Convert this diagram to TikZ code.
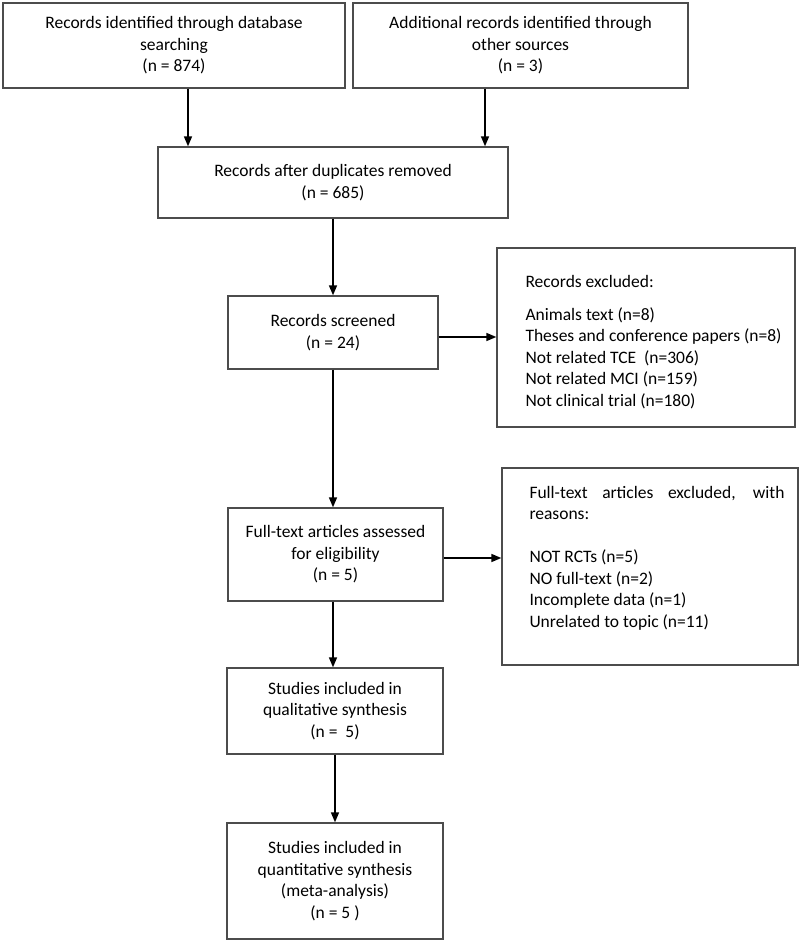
\documentclass[tikz,border=0pt]{standalone}
\usepackage{fontspec}
\setmainfont{Carlito}
\usetikzlibrary{arrows.meta}

\tikzset{
    box/.style={draw=black!70, line width=1.4pt, align=center, inner sep=0pt},
    listtext/.style={anchor=north west, align=left, inner sep=0pt},
    flow/.style={-{Triangle[length=10pt,width=8pt]}, line width=1.6pt},
}

\begin{document}
\begin{tikzpicture}[x=1pt,y=-1pt,font=\fontsize{17.5}{21.5}\selectfont]
    	\useasboundingbox (0,0) rectangle (800,941);

    	\node[box, minimum width=342pt, minimum height=85pt] (ident) at (174,45.5)
    		{Records identified through database\\searching\\(n = 874)};
    	\node[box, minimum width=335pt, minimum height=85pt] (other) at (520.5,45.5)
    		{Additional records identified through\\other sources\\(n = 3)};
    	\node[box, minimum width=350pt, minimum height=71pt] (dedup) at (333,182.5)
    		{Records after duplicates removed\\(n = 685)};
    	\node[box, minimum width=210pt, minimum height=73pt] (screen) at (333,332.5)
    		{Records screened\\(n = 24)};
    	\node[box, minimum width=298pt, minimum height=179pt] (excl) at (646,337.5) {};
    	\node[listtext] (excltext) at ([xshift=29pt,yshift=-27.5pt]excl.north west)
    		{Records excluded:\\[11.5pt]Animals text (n=8)\\Theses and conference papers (n=8)\\Not related TCE~~(n=306)\\Not related MCI (n=159)\\Not clinical trial (n=180)};
    	\node[box, minimum width=215pt, minimum height=93pt] (full) at (335.5,554.5)
    		{Full-text articles assessed\\for eligibility\\(n = 5)};
    	\node[box, minimum width=296pt, minimum height=197pt] (fexcl) at (650,566.5) {};
    	\node[listtext, align=justify, text width=255pt] (fexcltext) at ([xshift=28pt,yshift=-18.5pt]fexcl.north west)
    		{Full-text articles excluded, with \mbox{reasons:}\\[21.5pt]NOT RCTs (n=5)\\NO full-text (n=2)\\Incomplete data (n=1)\\Unrelated to topic (n=11)};
    	\node[box, minimum width=216pt, minimum height=86pt] (qual) at (335,711)
    		{Studies included in\\qualitative synthesis\\(n =~~5)};
    	\node[box, minimum width=216pt, minimum height=116pt] (quant) at (335,881)
    		{Studies included in\\quantitative synthesis\\(meta-analysis)\\(n = 5 )};

    	\draw[flow] ([xshift=14pt]ident.south) -- ([xshift=14pt]ident.south |- dedup.north);
    	\draw[flow] ([xshift=-35.5pt]other.south) -- ([xshift=-35.5pt]other.south |- dedup.north);
    	\draw[flow] (dedup.south) -- (dedup.south |- screen.north);
    	\draw[flow] ([yshift=-4.5pt]screen.east) -- ([yshift=-4.5pt]screen.east -| excl.west);
    	\draw[flow] (screen.south) -- (screen.south |- full.north);
    	\draw[flow] ([yshift=-3.5pt]full.east) -- ([yshift=-3.5pt]full.east -| fexcl.west);
    	\draw[flow] ([xshift=-2.5pt]full.south) -- ([xshift=-2.5pt]full.south |- qual.north);
    	\draw[flow] (qual.south) -- (qual.south |- quant.north);
    \end{tikzpicture}
\end{document}
